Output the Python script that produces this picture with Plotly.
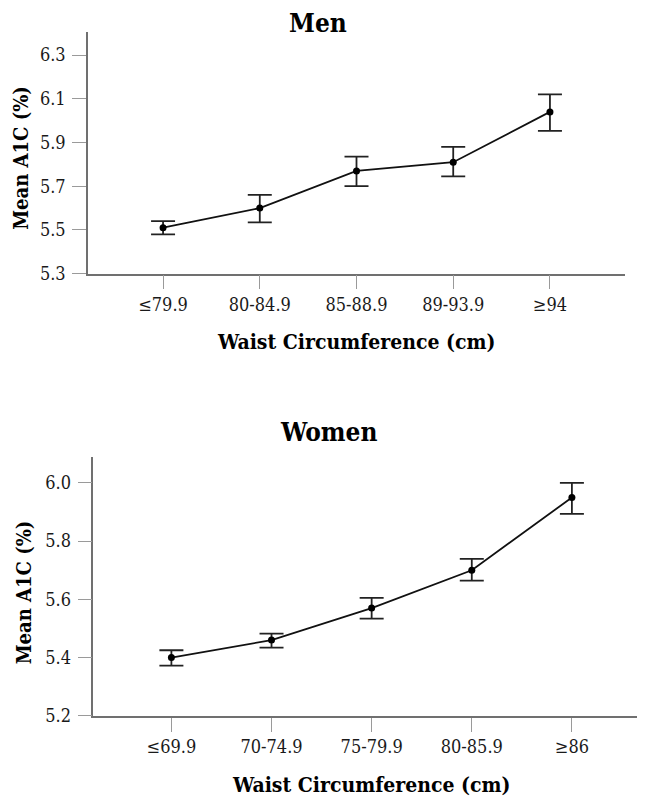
import plotly.graph_objects as go

# ---- data ----
men_categories = ["≤79.9", "80-84.9", "85-88.9", "89-93.9", "≥94"]
men_mean = [5.51, 5.60, 5.77, 5.81, 6.04]
men_upper = [5.54, 5.66, 5.835, 5.88, 6.12]
men_lower = [5.48, 5.535, 5.70, 5.745, 5.953]

women_categories = ["≤69.9", "70-74.9", "75-79.9", "80-85.9", "≥86"]
women_mean = [5.40, 5.46, 5.57, 5.70, 5.95]
women_upper = [5.425, 5.482, 5.605, 5.739, 6.00]
women_lower = [5.372, 5.434, 5.534, 5.664, 5.894]

men_yticks = [5.3, 5.5, 5.7, 5.9, 6.1, 6.3]
women_yticks = [5.2, 5.4, 5.6, 5.8, 6.0]

W, H = 645, 801
FONT = "DejaVu Serif Condensed"


def px_x(p):
    return p / W


def px_y(p):
    return 1 - p / H


fig = go.Figure()


def add_series(cats, mean, upper, lower, xa, ya):
    plus = [u - m for u, m in zip(upper, mean)]
    minus = [m - l for m, l in zip(mean, lower)]
    fig.add_trace(go.Scatter(
        x=cats, y=mean, xaxis=xa, yaxis=ya, mode="lines+markers",
        line=dict(color="#111111", width=1.8),
        marker=dict(color="#000000", size=7),
        error_y=dict(type="data", symmetric=False, array=plus, arrayminus=minus,
                     color="#222222", thickness=1.8, width=12),
        showlegend=False, hoverinfo="skip",
    ))


add_series(men_categories, men_mean, men_upper, men_lower, "x", "y")
add_series(women_categories, women_mean, women_upper, women_lower, "x2", "y2")

axis_common = dict(
    showline=True, linecolor="#707070", linewidth=1.5,
    ticks="outside", ticklen=14, tickwidth=1.2, tickcolor="#9a9a9a",
    showgrid=False, zeroline=False, mirror=False,
    tickfont=dict(family=FONT, size=18, color="#1a1a1a"),
)

fig.update_layout(
    width=W, height=H,
    margin=dict(l=0, r=0, t=0, b=0),
    paper_bgcolor="white", plot_bgcolor="white",
    font=dict(family=FONT),
    xaxis=dict(axis_common, domain=[px_x(80), px_x(617)], anchor="y",
               type="category", range=[-0.776, 4.776]),
    yaxis=dict(axis_common, domain=[px_y(269), px_y(24)], anchor="x",
               range=[5.3, 6.407], tickvals=men_yticks,
               ticktext=[f"{v:.1f}" for v in men_yticks],
               ticklabelstandoff=3),
    xaxis2=dict(axis_common, domain=[px_x(85.3), px_x(642)], anchor="y2",
                type="category", range=[-0.78, 4.78]),
    yaxis2=dict(axis_common, domain=[px_y(716.7), px_y(455)], anchor="x2",
                range=[5.2, 6.088], tickvals=women_yticks,
                ticktext=[f"{v:.1f}" for v in women_yticks],
                ticklabelstandoff=3),
)

ann = []


def text(t, xp, yp, size, angle=0):
    ann.append(dict(text=t, x=px_x(xp), y=px_y(yp), xref="paper", yref="paper",
                    xanchor="center", yanchor="middle", showarrow=False,
                    textangle=angle,
                    font=dict(family=FONT, size=size, color="#000000")))


text("<b>Men</b>", 310, 15, 26)
text("<b>Women</b>", 320, 429, 26)
text("<b>Waist Circumference (cm)</b>", 348.3, 338, 21)
text("<b>Waist Circumference (cm)</b>", 363.7, 786, 21)
text("<b>Mean A1C (%)</b>", 13, 151.7, 20, -90)
text("<b>Mean A1C (%)</b>", 16, 591.7, 20, -90)

fig.update_layout(annotations=ann)

fig.write_html("out.html")
